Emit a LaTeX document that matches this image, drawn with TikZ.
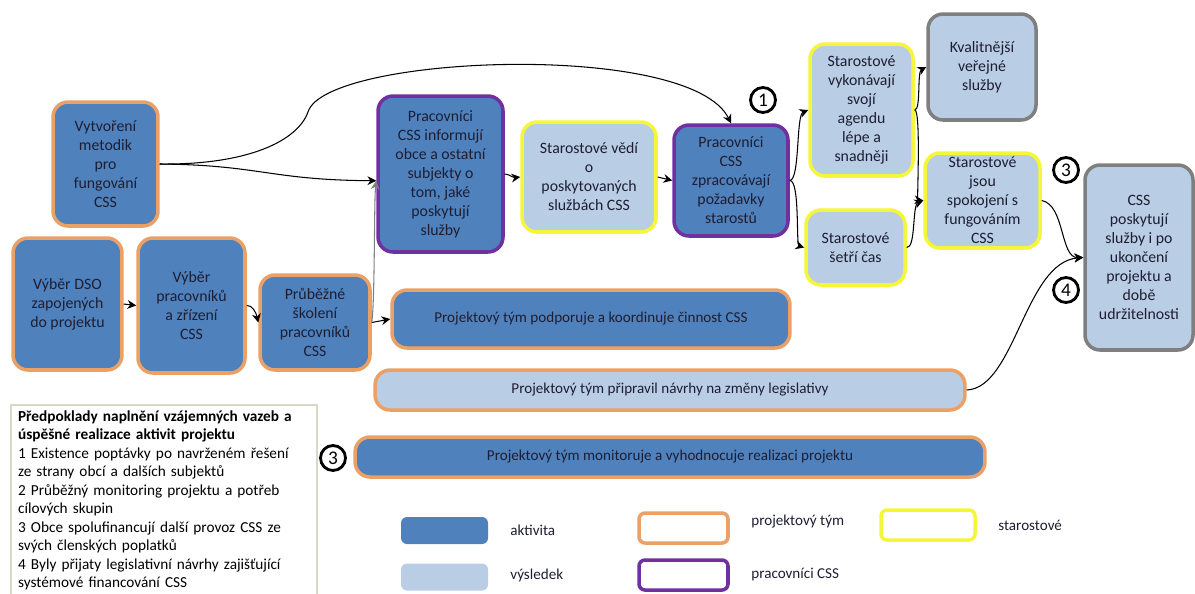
\documentclass[tikz,border=0pt]{standalone}
\usepackage{fontspec}
\setmainfont{Carlito}
\usetikzlibrary{arrows.meta}
\definecolor{aktiv}{HTML}{4F81BD}
\definecolor{vysl}{HTML}{B9CDE5}
\definecolor{tym}{HTML}{EBA066}
\definecolor{prac}{HTML}{7030A0}
\definecolor{star}{HTML}{F5F53A}
\definecolor{sedy}{HTML}{7F7F7F}
\definecolor{ramec}{HTML}{D8D8C4}
\definecolor{pismo}{HTML}{1E1E32}
\tikzset{
  box/.style={rounded corners=0.3cm, line width=2pt, align=center, text=pismo, inner sep=2pt, font=\fontsize{9}{10.8}\selectfont},
  pruh/.style={box, font=\fontsize{8.6}{10.8}\selectfont},
  cis/.style={circle, draw=black, line width=1.6pt, inner sep=0pt, minimum size=0.5cm, font=\fontsize{11}{13}\selectfont},
  sipka/.style={-{Stealth[length=5pt,width=5pt]}, line width=0.6pt},
  popis/.style={anchor=west, text=pismo, inner sep=0pt, font=\fontsize{8.6}{10.8}\selectfont},
}

\begin{document}
\begin{tikzpicture}[x=0.02cm, y=-0.02cm]
		%%%%% START %%%%%
		\useasboundingbox (0,0) rectangle (1195,593);
		
		\node[box, fill=aktiv, draw=tym, minimum width=2.1cm, minimum height=2.48cm] (metod) at (105.5,164) {Vytvoření\\metodik\\pro\\fungování\\CSS};
		\node[box, fill=aktiv, draw=tym, minimum width=2.18cm, minimum height=2.64cm] (dso) at (67.5,304) {Výběr DSO\\zapojených\\do projektu};
		\node[box, fill=aktiv, draw=tym, minimum width=2.14cm, minimum height=2.7cm] (vyber) at (191.5,305.5) {Výběr\\pracovníků\\a zřízení\\CSS};
		\node[box, fill=aktiv, draw=tym, minimum width=2.2cm, minimum height=1.9cm] (skol) at (315,322.5) {Průběžné\\školení\\pracovníků\\CSS};
		
		\node[box, fill=aktiv, draw=prac, minimum width=2.5cm, minimum height=3.12cm] (inform) at (440.5,174) {Pracovníci\\CSS informují\\obce a ostatní\\subjekty o\\tom, jaké\\poskytují\\služby};
		\node[box, fill=vysl, draw=star, minimum width=2.68cm, minimum height=2.2cm] (vedi) at (589,177) {Starostové vědí\\o\\poskytovaných\\službách CSS};
		\node[box, fill=aktiv, draw=prac, minimum width=2.28cm, minimum height=2.22cm] (zprac) at (731,180.5) {Pracovníci\\CSS\\zpracovávají\\požadavky\\starostů};
		
		\node[box, fill=vysl, draw=star, minimum width=2.06cm, minimum height=2.64cm] (vykon) at (861.5,110) {Starostové\\vykonávají\\svojí\\agendu\\lépe a\\snadněji};
		\node[box, fill=vysl, draw=sedy, minimum width=2.16cm, minimum height=2.12cm] (kval) at (982,67) {Kvalitnější\\veřejné\\služby};
		\node[box, fill=vysl, draw=star, minimum width=1.98cm, minimum height=1.5cm] (setri) at (855.5,247.5) {Starostové\\šetří čas};
		\node[box, fill=vysl, draw=star, minimum width=2.3cm, minimum height=1.9cm] (spokoj) at (982.5,200.5) {Starostové\\jsou\\spokojení s\\fungováním\\CSS};
		\node[box, fill=vysl, draw=sedy, minimum width=2.16cm, minimum height=3.7cm] (udrz) at (1139,257.5) {CSS\\poskytují\\služby i po\\ukončení\\projektu a\\době\\udržitelnosti};
		
		\node[pruh, fill=aktiv, draw=tym, minimum width=7.96cm, minimum height=1.16cm] (podpor) at (591,319) {Projektový tým podporuje a koordinuje činnost CSS};
		\node[pruh, fill=vysl, draw=tym, minimum width=11.8cm, minimum height=0.8cm] (legis) at (670,390) {Projektový tým připravil návrhy na změny legislativy};
		\node[pruh, fill=aktiv, draw=tym, minimum width=12.6cm, minimum height=0.8cm] (monit) at (670,457) {Projektový tým monitoruje a vyhodnocuje realizaci projektu};
		
		\node[cis] (c1) at (763,100) {1};
		\node[cis] (c3) at (1066,170) {3};
		\node[cis] (c4) at (1066,290) {4};
		\node[cis] (c3b) at (333,458) {3};
		
		% spojnice
		\coordinate (zlom) at (308,112);
		\draw[sipka] (metod.east) .. controls (260,165) and (270,180) .. (inform.186);
		\draw[line width=0.6pt] (metod.east) .. controls (250,165) and (298,140) .. (zlom);
		\draw[sipka] (zlom) .. controls (325,55) and (690,40) .. (zprac.north);
		\draw[sipka] (dso.east) -- (vyber.west);
		\draw[sipka] (vyber.east) .. controls (252,305) and (256,312) .. (skol.west);
		\draw[sipka] (skol.east) -- (podpor.west);
		\draw[sipka, draw=sedy] (skol.east) .. controls (375,300) and (374,200) .. (inform.186);
		\draw[sipka] (inform.east) .. controls (512,175) and (512,178) .. (vedi.west);
		\draw[sipka] (vedi.east) -- (zprac.west);
		\draw[sipka] (zprac.east) .. controls (800,180) and (796,115) .. (vykon.west);
		\draw[sipka] (zprac.east) .. controls (800,180) and (796,245) .. (setri.west);
		\draw[sipka] (vykon.east) .. controls (921,110) and (917,72) .. (kval.west);
		\draw[sipka] (vykon.east) .. controls (921,110) and (917,200) .. (spokoj.west);
		\draw[sipka] (setri.east) .. controls (916,248) and (912,205) .. (spokoj.west);
		\draw[sipka] (spokoj.east) .. controls (1065,205) and (1060,258) .. (udrz.west);
		\draw[sipka] (legis.east) .. controls (1015,388) and (1025,262) .. (udrz.west);
		
		% legenda
		\node[draw=ramec, line width=1.2pt, anchor=north west, align=left, text width=5.84cm, inner xsep=4pt, inner ysep=3pt, font=\fontsize{8.7}{10.55}\selectfont] (predp) at (10,404) {\textbf{Předpoklady naplnění vzájemných vazeb a}\\\textbf{úspěšné realizace aktivit projektu}\\1 Existence poptávky po navrženém řešení\\ze strany obcí a dalších subjektů\\2 Průběžný monitoring projektu a potřeb\\cílových skupin\\3 Obce spolufinancují další provoz CSS ze\\svých členských poplatků\\4 Byly přijaty legislativní návrhy zajišťující\\systémové financování CSS};
		
		\node[rounded corners=0.12cm, fill=aktiv, minimum width=1.74cm, minimum height=0.54cm] (l1) at (444.5,530.5) {};
		\node[rounded corners=0.12cm, fill=vysl, minimum width=1.74cm, minimum height=0.54cm] (l2) at (444.5,577) {};
		\node[rounded corners=0.12cm, draw=tym, line width=2pt, fill=white, minimum width=1.78cm, minimum height=0.6cm] (l3) at (683.5,528) {};
		\node[rounded corners=0.12cm, draw=prac, line width=2pt, fill=white, minimum width=1.78cm, minimum height=0.6cm] (l4) at (683.5,575) {};
		\node[rounded corners=0.12cm, draw=star, line width=2pt, fill=white, minimum width=1.88cm, minimum height=0.6cm] (l5) at (928,525) {};
		\node[popis] (t1) at (510,530) {aktivita};
		\node[popis] (t2) at (510,575) {výsledek};
		\node[popis] (t3) at (751,522) {projektový tým};
		\node[popis] (t4) at (751,575) {pracovníci CSS};
		\node[popis] (t5) at (998,525) {starostové};
		
		%%%%% END %%%%%
	\end{tikzpicture}
\end{document}
